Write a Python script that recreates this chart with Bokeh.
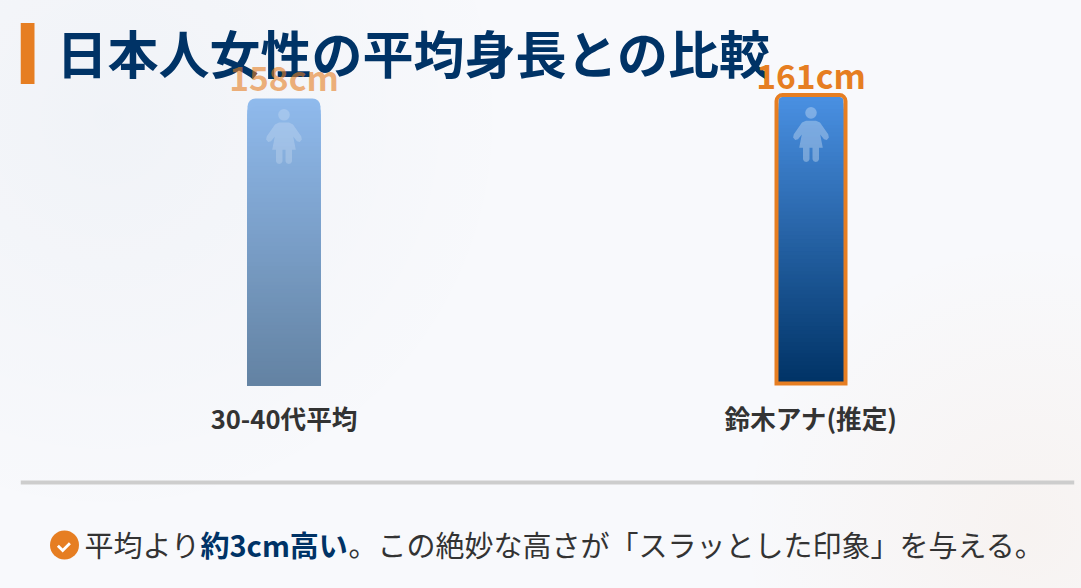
from bokeh.embed import file_html
from bokeh.resources import INLINE
from bokeh.plotting import figure
from bokeh.models import ColumnDataSource, Range1d, BoxAnnotation, PolyAnnotation, Label
from bokeh.core.properties import value

# ---- data -------------------------------------------------------------
categories = ["30-40代平均", "鈴木アナ(推定)"]
heights = [158, 161]
height_labels = ["158cm", "161cm"]
title_text = "日本人女性の平均身長との比較"
note_parts = ["平均より", "約3cm高い", "。この絶妙な高さが「スラッとした印象」を与える。"]

# ---- style / layout ---------------------------------------------------
FONT = "Noto Sans CJK JP"
NAVY, ORANGE, BLUE, INK = (0, 51, 102), "#e67e22", (74, 144, 226), "#333333"
NAVY_HEX = "#003366"
PAGE = (248, 249, 252)
W, H = 1081, 588
FRAME_L, FRAME_T, FRAME_B = 20, 20, 588
BASELINE = 385                               # page y of the bars' foot
FRAME_W = 1054
PX_PER_CM = 287 / 158
PX_PER_CAT = FRAME_W / 2
BAR_PX = 73
STRIPS = 72

p = figure(width=W, height=H, output_backend="svg", toolbar_location=None,
           x_range=categories,
           y_range=Range1d(-(FRAME_B - BASELINE) / PX_PER_CM, (BASELINE - FRAME_T) / PX_PER_CM),
           min_border_left=FRAME_L, min_border_right=W - FRAME_L - FRAME_W,
           min_border_top=FRAME_T, min_border_bottom=H - FRAME_B,
           background_fill_alpha=0, border_fill_alpha=0, outline_line_color=None)
p.sizing_mode = "fixed"
p.grid.visible = False
p.yaxis.visible = False
ax = p.xaxis[0]
ax.fixed_location = 0
ax.axis_line_color = None
ax.major_tick_line_color = None
ax.minor_tick_line_color = None
ax.major_label_text_font = FONT
ax.major_label_text_font_style = "bold"
ax.major_label_text_font_size = "25.6px"
ax.major_label_text_color = INK
ax.major_label_standoff = 7

unit_w = BAR_PX / PX_PER_CAT


def mix(a, b, t, alpha=1.0):
    c = [a[k] + (b[k] - a[k]) * t for k in range(3)]
    c = [alpha * c[k] + (1 - alpha) * PAGE[k] for k in range(3)]
    return "#%02x%02x%02x" % tuple(round(v) for v in c)


def bar(cat, val, inset_px, alpha):
    """Gradient bar: nested strips from the base up to val, tallest painted first."""
    inset = inset_px / PX_PER_CM
    top_all = val - inset
    bot_all = inset
    n = STRIPS
    tops = [top_all - (top_all - bot_all) * i / n for i in range(n)]
    cols = [mix(BLUE, NAVY, (i + .5) / n, alpha) for i in range(n)]
    width = unit_w - 2 * inset_px / PX_PER_CAT
    r = 8 - inset_px
    # the top strips carry the rounded corners
    p.vbar(x=[cat] * 3, top=tops[:3], bottom=bot_all, width=width, fill_color=cols[:3],
           line_color=None, border_radius=(r, r, 0, 0))
    p.vbar(x=[cat] * (n - 3), top=tops[3:], bottom=bot_all,
           width=width, fill_color=cols[3:], line_color=None)


# screen units here run from the frame's lower-left corner, upwards
def sx(px):
    return px - FRAME_L


def sy(py):
    return FRAME_B - py


def box(x0, x1, y0, y1, color, **kw):
    p.add_layout(BoxAnnotation(left=sx(x0), right=sx(x1), top=sy(y0), bottom=sy(y1),
                               left_units="screen", right_units="screen", top_units="screen",
                               bottom_units="screen", fill_color=color, fill_alpha=1, line_color=None, **kw))


# heading
p.add_layout(Label(x=sx(56), y=536.5, x_units="screen", y_units="screen", text=title_text, text_font=FONT,
                   text_font_style="bold", text_font_size="51px", text_color=NAVY_HEX,
                   text_baseline="alphabetic"))

bar(categories[0], heights[0], 0, 0.6)
bar(categories[1], heights[1], 4, 1.0)

# orange outline of the highlighted bar
half = 2 / PX_PER_CM
p.vbar(x=[categories[1]], top=[heights[1] - half], bottom=[half],
       width=unit_w - 4 / PX_PER_CAT, fill_color=None,
       line_color=ORANGE, line_width=4, line_join="miter", border_radius=(6, 6, 0, 0))

# person icon
BODY = [(-5, 13.4), (5, 13.4), (9, 15.2), (17.2, 27), (17.9, 30.3), (15.8, 32.8), (13, 32), (9.2, 27.2),
        (11.8, 40.6), (8, 40.6), (8, 52), (7, 54), (4.8, 54.8), (2.6, 54), (1.5, 52), (1.5, 40.6),
        (-1.5, 40.6), (-1.5, 52), (-2.6, 54), (-4.8, 54.8), (-7, 54), (-8, 52), (-8, 40.6), (-11.8, 40.6),
        (-9.2, 27.2), (-13, 32), (-15.8, 32.8), (-17.9, 30.3), (-17.2, 27), (-9, 15.2)]
for cat, val, off, a in zip(categories, heights, (10.7, 14.2), (0.2, 0.3)):
    ytop = val - off / PX_PER_CM
    p.patch([(cat, d[0] / PX_PER_CAT) for d in BODY], [ytop - d[1] / PX_PER_CM for d in BODY],
            fill_color="white", fill_alpha=a, line_color=None)
    p.scatter([cat], [ytop - 5.6 / PX_PER_CM], size=11.6,
              fill_color="white", fill_alpha=a, line_color=None)

# value labels
src = ColumnDataSource(dict(x=categories, y=heights, t=height_labels, a=[0.6, 1.0], o=[-21.6, -18.2]))
p.text("x", "y", text="t", source=src, text_font=value(FONT), text_font_style="bold",
       text_font_size="33.6px", text_color=ORANGE, text_alpha="a", text_align="center",
       text_baseline="alphabetic", y_offset="o", level="overlay")

# accent bar, divider, note
box(20, 34, 22.4, 83.4, ORANGE)
box(20, 1074, 480, 484, "#cdcdcd")
box(49.5, 78.5, 530, 559, ORANGE, border_radius=15)
CHECK = [(56.4, 546.3), (58.4, 544.3), (62.2, 548), (68.4, 541.8), (70.4, 543.8), (62.2, 552)]
p.add_layout(PolyAnnotation(xs=[sx(c[0]) for c in CHECK], ys=[sy(c[1]) for c in CHECK],
                            xs_units="screen", ys_units="screen",
                            fill_color="white", fill_alpha=1, line_color=None))

for txt, x, col, st in zip(note_parts, (64, 180, 328), (INK, NAVY_HEX, INK), ("normal", "bold", "normal")):
    p.add_layout(Label(x=x, y=45, x_units="screen", y_units="screen", text=txt, text_font=FONT,
                       text_font_style=st, text_font_size="29px", text_color=col, text_baseline="alphabetic"))

STYLE = """<style>html,body{height:100%;margin:0}body{background:
radial-gradient(circle at 10% 20%, rgba(0,51,102,.03), rgba(0,51,102,0) 38%),
radial-gradient(circle at 95% 90%, rgba(230,126,34,.05), rgba(230,126,34,0) 25%),
#f8f9fc}</style></head>"""
open("out.html", "w").write(file_html(p, INLINE).replace("</head>", STYLE, 1))
